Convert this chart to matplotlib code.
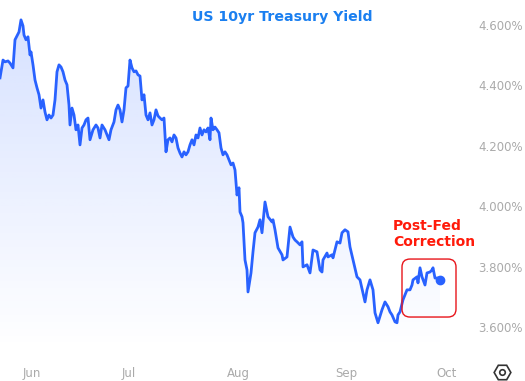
import matplotlib
matplotlib.use("Agg")
import matplotlib.pyplot as plt
import numpy as np
from matplotlib.patches import FancyBboxPatch
from matplotlib.lines import Line2D

# trading sessions since start of window (late May 2024)
sessions = [
    0, 0.6, 1, 1.6, 2, 2.6, 3, 3.4, 3.8, 4.2,
    4.6, 4.8, 5.2, 5.6, 6, 6.2, 6.6, 7, 7.4, 7.8,
    8.2, 8.6, 9, 9.4, 9.8, 10.2, 10.6, 11, 11.4, 11.8,
    12.2, 12.6, 13, 13.4, 13.8, 14, 14.4, 14.8, 15.2, 15.6,
    16, 16.4, 16.8, 17.2, 17.6, 18, 18.6, 19.2, 19.6, 20,
    20.4, 21, 21.4, 21.8, 22.2, 22.8, 23.2, 23.6, 24, 24.4,
    24.8, 25.2, 25.6, 26, 26.4, 26.8, 27.2, 27.6, 28, 28.4,
    28.8, 29.2, 29.6, 30, 30.4, 30.8, 31.2, 31.6, 32, 32.4,
    32.8, 33.2, 33.6, 34, 34.4, 34.8, 35.2, 35.6, 36, 36.4,
    36.8, 37.2, 37.6, 38, 38.4, 38.8, 39.2, 39.6, 40, 40.4,
    40.8, 41.2, 41.6, 42, 42.2, 42.6, 43, 43.4, 43.8, 44.2,
    44.6, 45, 45.4, 45.8, 46.2, 46.6, 47, 47.4, 47.8, 48,
    48.4, 48.6, 49, 49.4, 49.6, 50.2, 50.6, 51, 51.6, 52,
    52.4, 53, 53.6, 54.4, 54.6, 55, 55.6, 56.4, 56.6, 57.4,
    58, 58.6, 59, 59.4, 60, 60.4, 60.6, 61.4, 62, 62.6,
    63.4, 64, 64.4, 64.6, 65.4, 65.6, 66.4, 66.6, 67.4, 68,
    68.4, 69, 69.6, 70, 70.6, 71.4, 72, 73, 73.4, 74,
    74.6, 75, 75.6, 76.4, 77, 77.6, 78, 78.4, 79, 79.4,
    79.6, 80, 80.6, 81.4, 82, 82.4, 82.6, 83.4, 83.6, 84,
    84.4, 85, 85.4, 86, 86.4, 86.6, 87, 87.6, 88,
]

# US 10yr yield, %
yields = [
    4.425, 4.484, 4.478, 4.481, 4.474, 4.458, 4.551, 4.564, 4.577, 4.617,
    4.597, 4.567, 4.551, 4.561, 4.501, 4.511, 4.468, 4.418, 4.392, 4.369,
    4.325, 4.352, 4.312, 4.286, 4.302, 4.292, 4.302, 4.352, 4.445, 4.468,
    4.461, 4.445, 4.418, 4.402, 4.335, 4.269, 4.325, 4.302, 4.253, 4.269,
    4.203, 4.259, 4.269, 4.286, 4.292, 4.220, 4.253, 4.269, 4.259, 4.226,
    4.269, 4.253, 4.236, 4.220, 4.253, 4.279, 4.319, 4.335, 4.319, 4.279,
    4.319, 4.392, 4.398, 4.484, 4.458, 4.445, 4.448, 4.435, 4.431, 4.352,
    4.369, 4.302, 4.286, 4.309, 4.269, 4.286, 4.319, 4.299, 4.292, 4.286,
    4.292, 4.180, 4.220, 4.226, 4.213, 4.236, 4.226, 4.193, 4.176, 4.163,
    4.180, 4.170, 4.180, 4.203, 4.220, 4.203, 4.236, 4.226, 4.259, 4.236,
    4.253, 4.246, 4.259, 4.220, 4.292, 4.253, 4.262, 4.253, 4.243, 4.193,
    4.170, 4.180, 4.170, 4.153, 4.137, 4.143, 4.120, 4.037, 4.061, 3.981,
    3.965, 3.945, 3.822, 3.789, 3.716, 3.779, 3.849, 3.912, 3.931, 3.955,
    3.912, 4.014, 3.965, 3.948, 3.955, 3.922, 3.862, 3.839, 3.822, 3.832,
    3.931, 3.898, 3.888, 3.882, 3.872, 3.882, 3.799, 3.806, 3.779, 3.855,
    3.849, 3.789, 3.782, 3.822, 3.845, 3.832, 3.839, 3.829, 3.882, 3.878,
    3.912, 3.922, 3.915, 3.865, 3.822, 3.766, 3.756, 3.683, 3.723, 3.756,
    3.723, 3.647, 3.614, 3.657, 3.683, 3.667, 3.650, 3.640, 3.617, 3.614,
    3.640, 3.650, 3.690, 3.723, 3.723, 3.739, 3.756, 3.766, 3.746, 3.796,
    3.766, 3.739, 3.779, 3.782, 3.789, 3.796, 3.762, 3.762, 3.756,
]

month_labels = ["Jun", "Jul", "Aug", "Sep", "Oct"]
month_pos = [6.4, 25.8, 47.6, 69.2, 89.4]
yticks = [3.6, 3.8, 4.0, 4.2, 4.4, 4.6]

# highlighted post-Fed window (sessions, yield %)
box_x = (80.4, 91.2)
box_y = (3.633, 3.825)

LINE = "#2962ff"

fig = plt.figure(figsize=(5.25, 3.81), dpi=100)
ax = fig.add_axes([0, 1 - 350 / 381, 465 / 525, 350 / 381])
ax.set_xlim(0, 93)
ax.set_ylim(3.5238, 4.6828)

# gradient fill under the line
poly = ax.fill_between(sessions, yields, 3.5238, color="none", lw=0)
grad = np.zeros((256, 1, 4))
grad[..., 0] = 41 / 255
grad[..., 1] = 98 / 255
grad[..., 2] = 1.0
grad[..., 3] = np.linspace(0.0, 0.2, 256)[:, None]
img = ax.imshow(grad, extent=[0, 93, 3.5238, 4.6828], origin="lower",
                aspect="auto", zorder=1)
img.set_clip_path(poly.get_paths()[0], transform=ax.transData)

ax.plot(sessions, yields, color=LINE, lw=2.0, zorder=3)
ax.plot(sessions[-1], yields[-1], "o", color=LINE, ms=6, zorder=4)

for s in ax.spines.values():
    s.set_visible(False)
ax.yaxis.tick_right()
ax.set_yticks(yticks)
ax.set_yticklabels([f"{v:.3f}%" for v in yticks])
ax.set_xticks(month_pos)
ax.set_xticklabels(month_labels)
ax.tick_params(axis="both", length=0, colors="#aaaaaa", labelsize=8.5)
ax.tick_params(axis="y", pad=9.5)
ax.tick_params(axis="x", pad=12)

# rounded red box around the post-Fed move
fig.canvas.draw()
(x0, y0), (x1, y1) = ax.transData.transform([(box_x[0], box_y[0]), (box_x[1], box_y[1])])
box = FancyBboxPatch((x0, y0), x1 - x0, y1 - y0,
                     boxstyle="round,pad=0,rounding_size=8",
                     transform=None, fc="none", ec="#e8151b", lw=1.0, zorder=5)
fig.patches.append(box)

ax.text(78.6, 3.908, "Post-Fed\nCorrection", color="#ff1a0a", fontsize=10,
        fontweight="bold", family="DejaVu Sans", ha="left", va="center",
        linespacing=1.25, zorder=6)

fig.text(282 / 525, 1 - 17 / 381, "US 10yr Treasury Yield", color="#1a7ff0",
         fontsize=10.2, fontweight="bold", family="DejaVu Sans",
         ha="center", va="center")

# settings icon in the corner
fig.add_artist(Line2D([502 / 525], [1 - 372 / 381], marker="H", ms=12,
                      mfc="none", mec="#333333", mew=1.2, transform=fig.transFigure))
fig.add_artist(Line2D([502 / 525], [1 - 372 / 381], marker="o", ms=4,
                      mfc="none", mec="#333333", mew=1.2, transform=fig.transFigure))

fig.savefig("out.png", dpi=100)
